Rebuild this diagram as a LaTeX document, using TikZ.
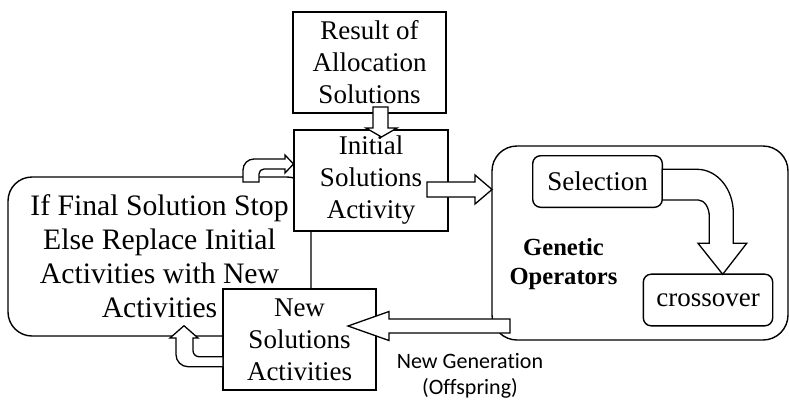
\documentclass[tikz,border=0pt]{standalone}
\usepackage{fontspec}
\setmainfont{Liberation Serif}
\newfontfamily\calfont[Ligatures=NoCommon]{Carlito}
\begin{document}
\begin{tikzpicture}[x=1pt,y=-1pt, line width=1.4pt,
  box/.style={draw, fill=white, inner sep=0pt, align=center, font=\fontsize{27}{32}\selectfont},
  rbox/.style={box, rounded corners=8pt},
  blk/.style={draw, fill=white, line width=1.3pt, line join=miter}]
\useasboundingbox (0,0) rectangle (789,400);

% left condition box
\node[box, rounded corners=24pt, minimum width=303pt, minimum height=159pt,
      font=\fontsize{29.7}{34}\selectfont] (cond) at (159.5,256.5)
  {If Final Solution Stop\\Else Replace Initial\\Activities with New\\Activities};

% genetic operators container
\node[draw, fill=white, rounded corners=25pt, minimum width=296pt, minimum height=194pt, inner sep=0pt] (gen) at (640,243) {};
\node[font=\bfseries\fontsize{24.6}{29}\selectfont, align=center, inner sep=0pt] (genlbl) at (563.5,263.8) {Genetic\\Operators};
\node[rbox, minimum width=129.6pt, minimum height=51.6pt] (sel) at (597.5,181.5) {Selection};
\node[rbox, minimum width=129.4pt, minimum height=51.7pt] (cross) at (708,300) {crossover};

% main boxes
\node[box, minimum width=154pt, minimum height=101pt] (init) at (371,180.5) {Initial\\Solutions\\Activity};
\node[box, minimum width=153pt, minimum height=101pt] (new) at (299.5,339.5) {New\\Solutions\\Activities};
\node[box, minimum width=153pt, minimum height=101pt] (res) at (369.5,62.5) {Result of\\Allocation\\Solutions};

% label
\node[font=\calfont\fontsize{22}{26}\selectfont, align=center, inner sep=0pt] (ngl) at (470,376) {New Generation\\(Offspring)};

% block arrows
% result -> initial
\draw[blk] (373,107) -- (388,107) -- (388,128) -- (397,128) -- (381.5,137) -- (366,128) -- (373,128) -- cycle;
% initial -> genetic
\draw[blk] (427,182) -- (475,182) -- (475,175) -- (492,189.5) -- (475,204) -- (475,197) -- (427,197) -- cycle;
% genetic -> new (new generation)
\draw[blk] (510,319) -- (389,319) -- (389,311.5) -- (348,326) -- (389,340.5) -- (389,333) -- (510,333) -- cycle;
% selection -> crossover
\draw[blk] (662.3,169.3) -- (697,169.3) .. controls (717.2,169.3) and (733.3,188.9) .. (733.3,213)
  -- (733.3,243.3) -- (746.7,243.3) -- (722.7,274.3) -- (698,243.3) -- (709.3,243.3) -- (709.3,216.7)
  .. controls (709.3,207.5) and (704.4,200) .. (698.3,200) -- (662.3,200) -- cycle;
% condition -> initial (top-left)
\draw[blk] (243,182) -- (243,170) .. controls (243,163.9) and (247.9,159) .. (254,159)
  -- (285,159) -- (285,155) -- (293.5,164) -- (285,173) -- (285,169) -- (264,169)
  .. controls (261.2,169) and (259,171.2) .. (259,174) -- (259,182) -- cycle;
% new -> condition (bottom-left)
\draw[blk] (223,366.7) -- (188,366.7) .. controls (181.4,366.7) and (176,361.3) .. (176,354.7)
  -- (176,338) -- (170,338) -- (184,325.7) -- (198,338) -- (193,338) -- (193,350.7)
  .. controls (193,354) and (195.7,356.7) .. (199,356.7) -- (223,356.7) -- cycle;
\end{tikzpicture}
\end{document}
